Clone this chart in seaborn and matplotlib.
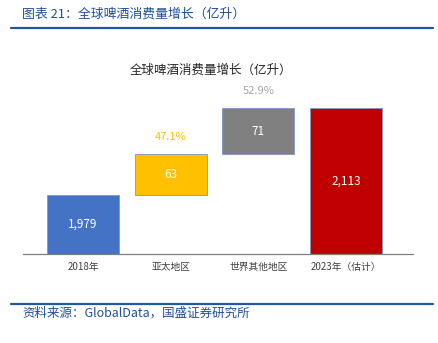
import matplotlib
matplotlib.use("Agg")
import matplotlib.pyplot as plt
import seaborn as sns
import pandas as pd
from matplotlib.lines import Line2D

categories = ["2018年", "亚太地区", "世界其他地区", "2023年（估计）"]
increments = [1979, 63, 71, 2113]
bottoms = [0, 1979, 2042, 0]
value_labels = ["1,979", "63", "71", "2,113"]
share_labels = ["", "47.1%", "52.9%", ""]
colors = ["#4472C4", "#FFC000", "#808080", "#C00000"]
share_colors = ["#FFC000", "#FFC000", "#A6A6A6", "#A6A6A6"]

sns.set_theme(style="white")
plt.rcParams["font.family"] = ["Noto Sans CJK SC", "DejaVu Sans"]

W, H = 438, 343
fig = plt.figure(figsize=(W / 100, H / 100), dpi=100)
ax = fig.add_axes([23 / W, (H - 254) / H, (413 - 23) / W, (254 - 40) / H])

df = pd.DataFrame({"cat": categories, "val": increments})
sns.barplot(data=df, x="cat", y="val", ax=ax, bottom=bottoms, width=0.82,
            color="#4472C4", edgecolor="#7F97C4", linewidth=0.6)
for p, c in zip(ax.patches, colors):
    p.set_facecolor(c)

ax.set_ylim(1888, 2218)
ax.set_xlim(-0.684, 3.763)

for i, (b, v, lab) in enumerate(zip(bottoms, increments, value_labels)):
    lo = max(b, 1888)
    ax.text(i, (lo + b + v) / 2, lab, ha="center", va="center", color="white", fontsize=8.5)
    if share_labels[i]:
        ax.annotate(share_labels[i], (i, b + v), xytext=(0, 12), textcoords="offset points",
                    ha="center", va="center", color=share_colors[i], fontsize=8)

ax.set_xlabel("")
ax.set_ylabel("")
ax.set_yticks([])
ax.tick_params(axis="x", length=0, pad=6, labelsize=7, labelcolor="#404040")
for s in ["top", "right", "left"]:
    ax.spines[s].set_visible(False)
ax.spines["bottom"].set_color("#808080")
ax.spines["bottom"].set_linewidth(0.9)

fig.text(211 / W, 1 - 70 / H, "全球啤酒消费量增长（亿升）", ha="center", va="center",
         fontsize=9, color="#262626")

fig.text(22 / W, 1 - 14 / H, "图表 21：全球啤酒消费量增长（亿升）", ha="left", va="center",
         fontsize=9.3, color="#1F4E99", style="italic")
fig.add_artist(Line2D([11 / W, 433 / W], [1 - 28 / H, 1 - 28 / H], color="#2356A0", lw=1.6))
fig.add_artist(Line2D([11 / W, 433 / W], [1 - 304 / H, 1 - 304 / H], color="#2356A0", lw=1.6))
fig.text(22 / W, 1 - 313 / H, "资料来源：GlobalData，国盛证券研究所", ha="left", va="center",
         fontsize=9, color="#1F4E99", style="italic")

fig.savefig("out.png", dpi=100)
